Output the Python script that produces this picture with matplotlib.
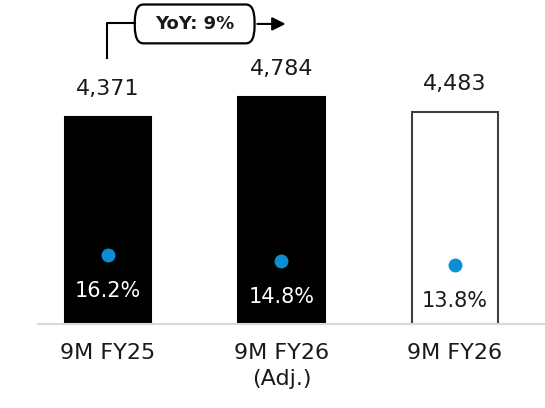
import matplotlib
matplotlib.use("Agg")
import matplotlib.pyplot as plt
from matplotlib.patches import FancyBboxPatch

plt.rcParams['font.family'] = ['DejaVu Sans']

categories = ["9M FY25", "9M FY26\n(Adj.)", "9M FY26"]
revenue = [4371, 4784, 4483]
margin = [16.2, 14.8, 13.8]
margin_labels = ["16.2%", "14.8%", "13.8%"]
bar_faces = ["black", "black", "white"]
yoy_text = "YoY: 9%"

fig = plt.figure(figsize=(5.45, 4.08), dpi=100)
ax = fig.add_axes([38 / 545, 84 / 408, 1 - 38 / 545, 324 / 408])
x = list(range(len(categories)))

ax.bar(x, revenue, width=0.5, color=bar_faces,
       edgecolor=["black", "black", "#404040"], linewidth=1.5, zorder=2)
for xi, v in zip(x, revenue):
    ax.text(xi, v + 380, f"{v:,}", ha="center", va="bottom", fontsize=16, color="#1a1a1a")

ax.set_xlim(-0.403, 2.519)
ax.set_ylim(0, 6840)
for s in ["top", "right", "left"]:
    ax.spines[s].set_visible(False)
ax.spines["bottom"].set_color("#d9d9d9")
ax.spines["bottom"].set_linewidth(1.5)
ax.set_yticks([])
ax.set_xticks(x)
ax.set_xticklabels(categories, fontsize=16, color="#1a1a1a", linespacing=1.35)
ax.tick_params(axis="x", length=0, pad=14)

ax2 = ax.twinx()
ax2.set_ylim(0, 76)
ax2.axis("off")
ax2.plot(x, margin, "o", color="#0a8fd4", markersize=9, linestyle="none", zorder=3)
for xi, m, lab, fc in zip(x, margin, margin_labels, bar_faces):
    ax2.text(xi, m - 8.4, lab, ha="center", va="center", fontsize=15,
             color="white" if fc == "black" else "#1a1a1a")

# YoY bracket
ax.plot([-0.005, -0.005, 0.155], [5616, 6355, 6355], color="black", lw=1.5, clip_on=False)
box = FancyBboxPatch((0.155, 5925), 0.69, 820, boxstyle="round,pad=0,rounding_size=0.05",
                     transform=ax.transData, facecolor="white", edgecolor="black",
                     lw=1.6, clip_on=False, mutation_aspect=7000)
ax.add_patch(box)
ax.text(0.5, 6335, yoy_text, ha="center", va="center", fontsize=13, fontweight="bold",
        color="#1a1a1a")
ax.annotate("", xy=(1.04, 6335), xytext=(0.845, 6335),
            arrowprops=dict(arrowstyle="-|>", color="black", lw=1.5, mutation_scale=20),
            annotation_clip=False)

fig.savefig("out.png", dpi=100)
